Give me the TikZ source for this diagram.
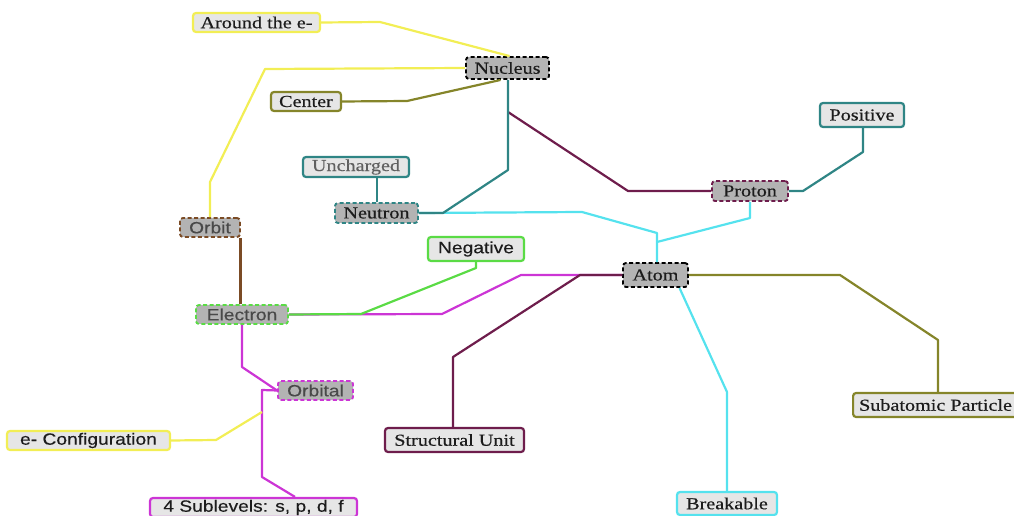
\documentclass[tikz,border=0pt]{standalone}
\usepackage{fontspec}
\setmainfont{Liberation Serif}[FakeStretch=1.2, FakeBold=0.4]
\newfontfamily\sanslabel{Liberation Sans}[FakeStretch=1.18, FakeBold=0.3]

\definecolor{cyel}{HTML}{F2EE55}
\definecolor{colive}{HTML}{85852A}
\definecolor{cteal}{HTML}{2F8585}
\definecolor{cmaroon}{HTML}{6E1D4C}
\definecolor{ccyan}{HTML}{55E2EE}
\definecolor{cbrown}{HTML}{7B4B25}
\definecolor{cgreen}{HTML}{5ADB45}
\definecolor{cmag}{HTML}{CC35D5}
\definecolor{leaffill}{HTML}{E6E6E6}
\definecolor{corefill}{HTML}{B3B3B3}
\definecolor{ink}{HTML}{1C1C1C}

\newcommand{\serifsz}{\fontsize{16.8bp}{19bp}\selectfont}
\newcommand{\sanssz}{\sanslabel\fontsize{16.3bp}{19bp}\selectfont}

\tikzset{
  leaf/.style={draw, rounded corners=3bp, line width=2.2bp, fill=leaffill,
    inner xsep=3bp, inner ysep=0pt, minimum height=19bp, text=ink, font=\serifsz},
  core/.style={leaf, fill=corefill, dash pattern=on 4bp off 2.5bp, line width=1.9bp},
  sanstext/.style={font=\sanssz},
  link/.style={line width=2.2bp, line join=round}
}

\begin{document}
\begin{tikzpicture}[x=1bp, y=-1bp]
\useasboundingbox (0,0) rectangle (1014,516);

% concept nodes
\node[core, draw=black, minimum width=83bp, minimum height=22bp] (nucleus) at (507.5,68) {Nucleus};
\node[core, draw=black, minimum width=65bp, minimum height=24bp] (atom) at (655.5,275) {Atom};
\node[core, draw=cteal, minimum width=83bp, minimum height=20bp] (neutron) at (376.5,213) {Neutron};
\node[core, draw=cmaroon, minimum width=76bp, minimum height=20bp] (proton) at (750,191) {Proton};
\node[core, sanstext, draw=cbrown, text=ink!80, minimum width=60bp] (orbit) at (210,227.5) {Orbit};
\node[core, sanstext, draw=cgreen, text=ink!80, minimum width=92bp] (electron) at (242,314.5) {Electron};
\node[core, sanstext, draw=cmag, text=ink!80, minimum width=75bp] (orbital) at (315.5,390.5) {Orbital};

% leaf nodes
\node[leaf, draw=cyel, minimum width=127bp] (around) at (256.5,22.5) {Around the e-};
\node[leaf, draw=colive, minimum width=70bp] (ncenter) at (306,101.5) {Center};
\node[leaf, draw=cteal, minimum width=84bp, minimum height=24bp] (positive) at (862,115) {Positive};
\node[leaf, draw=cteal, text=ink!70, minimum width=106bp, minimum height=20bp] (uncharged) at (356,167) {Uncharged};
\node[leaf, sanstext, draw=cgreen, minimum width=96bp, minimum height=24bp] (negative) at (476,249) {Negative};
\node[leaf, sanstext, draw=cyel, minimum width=163bp] (econfig) at (88.5,440.5) {e- Configuration};
\node[leaf, draw=cmaroon, minimum width=139bp, minimum height=24bp] (structural) at (454.5,440) {Structural Unit};
\node[leaf, draw=colive, minimum height=24bp, anchor=west, inner xsep=6bp] (subatomic) at (852,405) {Subatomic Particle};
\node[leaf, sanstext, draw=cmag, minimum width=207bp] (sublevels) at (253.5,507.5) {4 Sublevels: s, p, d, f};
\node[leaf, draw=ccyan, minimum width=100bp, minimum height=23bp] (breakable) at (727,503.5) {Breakable};

% connectors around the nucleus
\draw[link, cyel] (around.east) -- (380,22) -- ([xshift=2bp]nucleus.north);
\draw[link, cyel] (nucleus.west) -- (265,69) -- (210,182) -- (orbit.north);
\draw[link, colive] (ncenter.east) -- (407,101) -- ([xshift=-7bp]nucleus.south);
\coordinate (nbend) at (508,112);
\draw[link, cmaroon] (nbend) -- (628,191) -- (proton.west);
\draw[link, cteal] (proton.east) -- (803,191) -- (863,152) -- (863,152 |- positive.south);

% connectors into the atom
\draw[link, ccyan] (neutron.east) -- (582,212) -- (657,233) -- (657,233 |- atom.north);
\draw[link, ccyan] (proton.south) -- (750,218) -- (657,242);
\draw[link, cteal] (neutron.east) -- (443,213) -- (508,170) -- ([xshift=0.5bp]nucleus.south);
\draw[link, cteal] (377,0 |- neutron.north) -- (377,0 |- uncharged.south);
\draw[link, cmag] (electron.east) -- (442,314) -- (521,275) -- (atom.west);
\draw[link, cgreen] (electron.east) -- (361,314) -- (476,268) -- (negative.south);
\draw[link, cmaroon] (atom.west) -- (580,275) -- (453,357) -- (453,0 |- structural.north);
\draw[link, colive] (atom.east) -- (840,275) -- (938,340) -- (938,0 |- subatomic.north);
\draw[link, ccyan] ([xshift=24bp]atom.south) -- (727,392) -- (breakable.north);

% electron branch
\draw[link, cbrown] ([xshift=-0.5bp]orbit.south east) -- ([xshift=-0.5bp]orbit.south east |- electron.north);
\draw[link, cmag] (electron.south) -- (242,367) -- (orbital.west);
\draw[link, cmag] (orbital.west) -- (262,390) -- (262,477) -- (295,0 |- sublevels.north);
\draw[link, cyel] (econfig.east) -- (216,440) -- (262,412);

\end{tikzpicture}
\end{document}
